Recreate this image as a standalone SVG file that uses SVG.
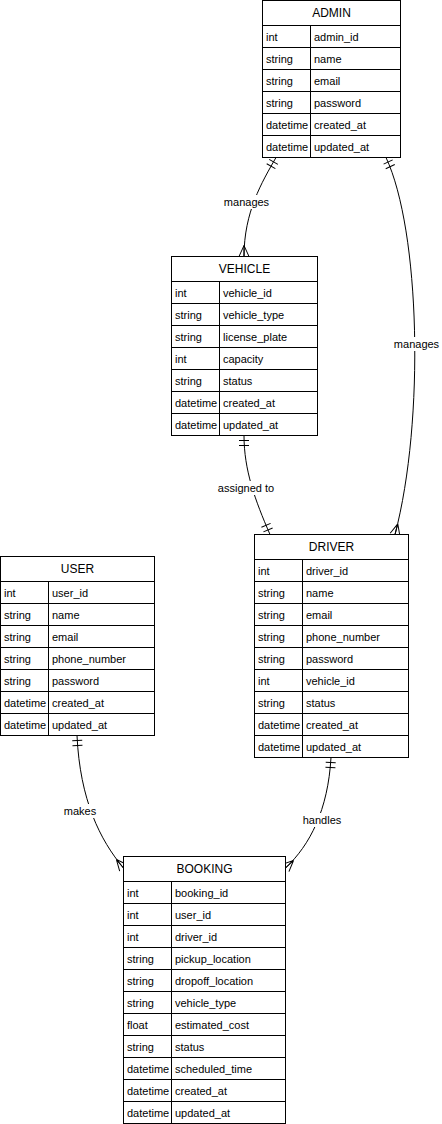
<svg xmlns="http://www.w3.org/2000/svg" width="442" height="1124" viewBox="0 0 442 1124">
<style>
.box{fill:#fff;stroke:#000;stroke-width:1}
.ln{stroke:#000;stroke-width:1;fill:none}
.h{font-family:"Liberation Sans",Arial,sans-serif;font-size:12px;fill:#000;text-anchor:middle}
.t{font-family:"Liberation Sans",Arial,sans-serif;font-size:11px;fill:#000}
.lbl{font-family:"Liberation Sans",Arial,sans-serif;font-size:11px;fill:#000;text-anchor:middle}
.edge{stroke:#000;stroke-width:1;fill:none}
</style>
<defs>
<marker id="oneStart" markerUnits="userSpaceOnUse" markerWidth="20" markerHeight="20" refX="0" refY="10" viewBox="0 0 20 20" orient="auto" overflow="visible">
<path d="M5,5 L5,15 M10,5 L10,15" stroke="#000" stroke-width="1" fill="none"/>
</marker>
<marker id="oneEnd" markerUnits="userSpaceOnUse" markerWidth="20" markerHeight="20" refX="20" refY="10" viewBox="0 0 20 20" orient="auto" overflow="visible">
<path d="M15,5 L15,15 M10,5 L10,15" stroke="#000" stroke-width="1" fill="none"/>
</marker>
<marker id="manyEnd" markerUnits="userSpaceOnUse" markerWidth="20" markerHeight="20" refX="20" refY="10" viewBox="0 0 20 20" orient="auto" overflow="visible">
<path d="M9,10 L20,5 M9,10 L20,15 M9,10 L20,10" stroke="#000" stroke-width="1" fill="none"/>
</marker>
</defs>

<g id="connectors">
<path class="edge" d="M276,157.5 C262,182 244,212 244,256.5" marker-start="url(#oneStart)" marker-end="url(#manyEnd)"/>
<path class="edge" d="M386,157.5 C420,230 425,420 395,534.5" marker-start="url(#oneStart)" marker-end="url(#manyEnd)"/>
<path class="edge" d="M244,435.5 C244,470 255,500 270,534.5" marker-start="url(#oneStart)" marker-end="url(#oneEnd)"/>
<path class="edge" d="M77,735.5 C80,800 100,840 123.5,868" marker-start="url(#oneStart)" marker-end="url(#manyEnd)"/>
<path class="edge" d="M331,757.5 C328,810 310,845 285.5,868" marker-start="url(#oneStart)" marker-end="url(#manyEnd)"/>
<rect x="223" y="195" width="47" height="14" fill="#fff"/>
<text class="lbl" x="246.5" y="206">manages</text>
<rect x="393" y="337" width="47" height="14" fill="#fff"/>
<text class="lbl" x="416.5" y="348">manages</text>
<rect x="217" y="481" width="58" height="14" fill="#fff"/>
<text class="lbl" x="246" y="492">assigned to</text>
<rect x="63" y="804" width="34" height="14" fill="#fff"/>
<text class="lbl" x="80" y="815">makes</text>
<rect x="301" y="813" width="42" height="14" fill="#fff"/>
<text class="lbl" x="322" y="824">handles</text>
</g>

<g id="admin">
<rect class="box" x="262.5" y="0.5" width="138" height="157"/>
<path class="ln" d="M262.5,25.5 H400.5 M262.5,47.5 H400.5 M262.5,69.5 H400.5 M262.5,91.5 H400.5 M262.5,113.5 H400.5 M262.5,135.5 H400.5 M310.5,25.5 V157.5"/>
<text class="h" x="331.5" y="17">ADMIN</text>
<text class="t" x="266" y="40.5">int</text><text class="t" x="314" y="40.5">admin_id</text>
<text class="t" x="266" y="62.5">string</text><text class="t" x="314" y="62.5">name</text>
<text class="t" x="266" y="84.5">string</text><text class="t" x="314" y="84.5">email</text>
<text class="t" x="266" y="106.5">string</text><text class="t" x="314" y="106.5">password</text>
<text class="t" x="266" y="128.5">datetime</text><text class="t" x="314" y="128.5">created_at</text>
<text class="t" x="266" y="150.5">datetime</text><text class="t" x="314" y="150.5">updated_at</text>
</g>

<g id="vehicle">
<rect class="box" x="171.5" y="256.5" width="146" height="179"/>
<path class="ln" d="M171.5,281.5 H317.5 M171.5,303.5 H317.5 M171.5,325.5 H317.5 M171.5,347.5 H317.5 M171.5,369.5 H317.5 M171.5,391.5 H317.5 M171.5,413.5 H317.5 M219.5,281.5 V435.5"/>
<text class="h" x="244.5" y="273">VEHICLE</text>
<text class="t" x="175" y="296.5">int</text><text class="t" x="223" y="296.5">vehicle_id</text>
<text class="t" x="175" y="318.5">string</text><text class="t" x="223" y="318.5">vehicle_type</text>
<text class="t" x="175" y="340.5">string</text><text class="t" x="223" y="340.5">license_plate</text>
<text class="t" x="175" y="362.5">int</text><text class="t" x="223" y="362.5">capacity</text>
<text class="t" x="175" y="384.5">string</text><text class="t" x="223" y="384.5">status</text>
<text class="t" x="175" y="406.5">datetime</text><text class="t" x="223" y="406.5">created_at</text>
<text class="t" x="175" y="428.5">datetime</text><text class="t" x="223" y="428.5">updated_at</text>
</g>

<g id="driver">
<rect class="box" x="254.5" y="534.5" width="154" height="223"/>
<path class="ln" d="M254.5,559.5 H408.5 M254.5,581.5 H408.5 M254.5,603.5 H408.5 M254.5,625.5 H408.5 M254.5,647.5 H408.5 M254.5,669.5 H408.5 M254.5,691.5 H408.5 M254.5,713.5 H408.5 M254.5,735.5 H408.5 M302.5,559.5 V757.5"/>
<text class="h" x="331.5" y="551">DRIVER</text>
<text class="t" x="258" y="574.5">int</text><text class="t" x="306" y="574.5">driver_id</text>
<text class="t" x="258" y="596.5">string</text><text class="t" x="306" y="596.5">name</text>
<text class="t" x="258" y="618.5">string</text><text class="t" x="306" y="618.5">email</text>
<text class="t" x="258" y="640.5">string</text><text class="t" x="306" y="640.5">phone_number</text>
<text class="t" x="258" y="662.5">string</text><text class="t" x="306" y="662.5">password</text>
<text class="t" x="258" y="684.5">int</text><text class="t" x="306" y="684.5">vehicle_id</text>
<text class="t" x="258" y="706.5">string</text><text class="t" x="306" y="706.5">status</text>
<text class="t" x="258" y="728.5">datetime</text><text class="t" x="306" y="728.5">created_at</text>
<text class="t" x="258" y="750.5">datetime</text><text class="t" x="306" y="750.5">updated_at</text>
</g>

<g id="user">
<rect class="box" x="0.5" y="556.5" width="154" height="179"/>
<path class="ln" d="M0.5,581.5 H154.5 M0.5,603.5 H154.5 M0.5,625.5 H154.5 M0.5,647.5 H154.5 M0.5,669.5 H154.5 M0.5,691.5 H154.5 M0.5,713.5 H154.5 M48.5,581.5 V735.5"/>
<text class="h" x="77.5" y="573">USER</text>
<text class="t" x="4" y="596.5">int</text><text class="t" x="52" y="596.5">user_id</text>
<text class="t" x="4" y="618.5">string</text><text class="t" x="52" y="618.5">name</text>
<text class="t" x="4" y="640.5">string</text><text class="t" x="52" y="640.5">email</text>
<text class="t" x="4" y="662.5">string</text><text class="t" x="52" y="662.5">phone_number</text>
<text class="t" x="4" y="684.5">string</text><text class="t" x="52" y="684.5">password</text>
<text class="t" x="4" y="706.5">datetime</text><text class="t" x="52" y="706.5">created_at</text>
<text class="t" x="4" y="728.5">datetime</text><text class="t" x="52" y="728.5">updated_at</text>
</g>

<g id="booking">
<rect class="box" x="123.5" y="856.5" width="162" height="267"/>
<path class="ln" d="M123.5,881.5 H285.5 M123.5,903.5 H285.5 M123.5,925.5 H285.5 M123.5,947.5 H285.5 M123.5,969.5 H285.5 M123.5,991.5 H285.5 M123.5,1013.5 H285.5 M123.5,1035.5 H285.5 M123.5,1057.5 H285.5 M123.5,1079.5 H285.5 M123.5,1101.5 H285.5 M171.5,881.5 V1123.5"/>
<text class="h" x="204.5" y="873">BOOKING</text>
<text class="t" x="127" y="896.5">int</text><text class="t" x="175" y="896.5">booking_id</text>
<text class="t" x="127" y="918.5">int</text><text class="t" x="175" y="918.5">user_id</text>
<text class="t" x="127" y="940.5">int</text><text class="t" x="175" y="940.5">driver_id</text>
<text class="t" x="127" y="962.5">string</text><text class="t" x="175" y="962.5">pickup_location</text>
<text class="t" x="127" y="984.5">string</text><text class="t" x="175" y="984.5">dropoff_location</text>
<text class="t" x="127" y="1006.5">string</text><text class="t" x="175" y="1006.5">vehicle_type</text>
<text class="t" x="127" y="1028.5">float</text><text class="t" x="175" y="1028.5">estimated_cost</text>
<text class="t" x="127" y="1050.5">string</text><text class="t" x="175" y="1050.5">status</text>
<text class="t" x="127" y="1072.5">datetime</text><text class="t" x="175" y="1072.5">scheduled_time</text>
<text class="t" x="127" y="1094.5">datetime</text><text class="t" x="175" y="1094.5">created_at</text>
<text class="t" x="127" y="1116.5">datetime</text><text class="t" x="175" y="1116.5">updated_at</text>
</g>
</svg>
